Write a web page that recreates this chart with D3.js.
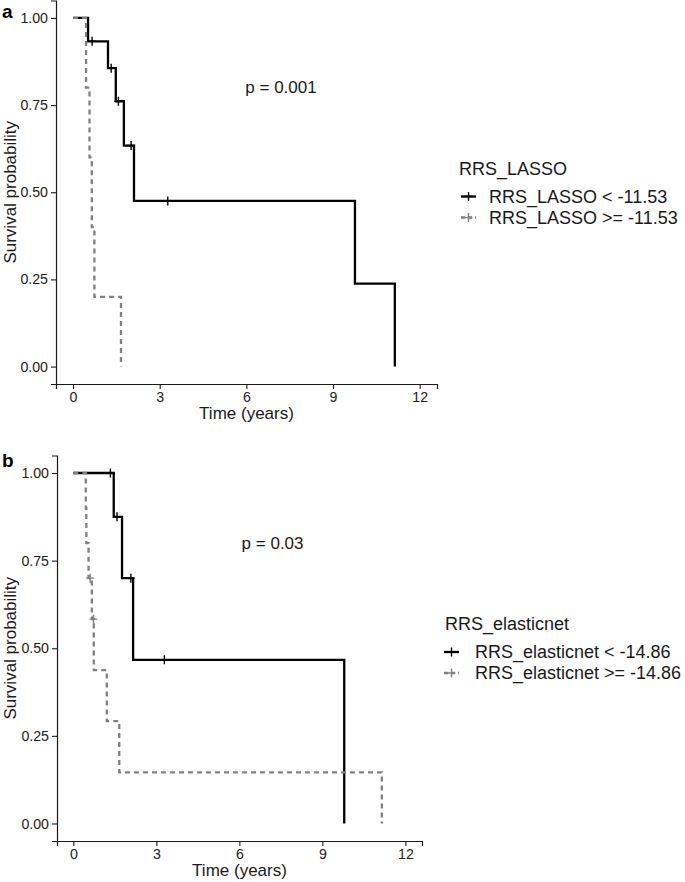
<!DOCTYPE html>
<html>
<head>
<meta charset="utf-8">
<script src="https://cdn.jsdelivr.net/npm/d3@7"></script>
<style>
  html, body { margin: 0; padding: 0; background: #fff; }
  svg { display: block; font-family: "Liberation Sans", Arial, sans-serif; }
</style>
</head>
<body>
<svg id="chart" width="685" height="882"></svg>
<script>
// ---------- data ----------
const timeTicks = [0, 3, 6, 9, 12];
const survTicks = [0, 0.25, 0.5, 0.75, 1];
const survTickLabels = ["0.00", "0.25", "0.50", "0.75", "1.00"];

// Panel a: RRS_LASSO
const lassoGroups = ["RRS_LASSO < -11.53", "RRS_LASSO >= -11.53"];
const lassoLowTime = [0, 0.52, 1.21, 1.48, 1.76, 2.11, 9.76, 11.14];
const lassoLowSurv = [1, 0.933, 0.856, 0.761, 0.634, 0.475, 0.238, 0];
const lassoLowCensorTime = [0.66, 1.32, 1.57, 2.01, 3.28];
const lassoLowCensorSurv = [0.933, 0.856, 0.761, 0.634, 0.475];
const lassoHighTime = [0, 0.45, 0.57, 0.65, 0.74, 1.66];
const lassoHighSurv = [1, 0.8, 0.6, 0.4, 0.2, 0];
const lassoHighCensorTime = [];
const lassoHighCensorSurv = [];

// Panel b: RRS_elasticnet
const enetGroups = ["RRS_elasticnet < -14.86", "RRS_elasticnet >= -14.86"];
const enetLowTime = [0, 1.46, 1.76, 2.16, 9.79];
const enetLowSurv = [1, 0.875, 0.70, 0.467, 0];
const enetLowCensorTime = [1.34, 1.58, 2.08, 3.29];
const enetLowCensorSurv = [1, 0.875, 0.70, 0.467];
const enetHighTime = [0, 0.45, 0.47, 0.55, 0.67, 0.74, 1.21, 1.66, 11.15];
const enetHighSurv = [1, 0.9, 0.8, 0.7, 0.583, 0.4375, 0.292, 0.146, 0];
const enetHighCensorTime = [0.61, 0.73];
const enetHighCensorSurv = [0.7, 0.583];

const pValues = ["p = 0.001", "p = 0.03"];
const legendTitles = ["RRS_LASSO", "RRS_elasticnet"];
const panelLetters = ["a", "b"];

// ---------- drawing ----------
const svg = d3.select("#chart");
const zip = (xs, ys) => xs.map((x, i) => [x, ys[i]]);
const ink = "#1a1a1a";
const colors = ["#000000", "#808080"];

function drawPanel(p) {
  const g = svg.append("g");
  const x = d3.scaleLinear().domain([-0.59, 12.6]).range([p.left, p.right]);
  const y = d3.scaleLinear().domain([-0.05, 1.05]).range([p.bottom, p.top]);

  // axes
  const xAxis = d3.axisBottom(x).tickValues(timeTicks).tickSize(5).tickPadding(3).tickFormat(d3.format("d"));
  const yAxis = d3.axisLeft(y).tickValues(survTicks).tickSize(5).tickPadding(3)
    .tickFormat(d => survTickLabels[survTicks.indexOf(d)]);
  const gx = g.append("g").attr("transform", `translate(0,${p.bottom})`).call(xAxis);
  const gy = g.append("g").attr("transform", `translate(${p.left},0)`).call(yAxis);
  [gx, gy].forEach(a => {
    a.select(".domain").attr("stroke", ink).attr("stroke-width", 1.2);
    a.selectAll(".tick line").attr("stroke", ink).attr("stroke-width", 1.1);
    a.selectAll(".tick text").attr("fill", "#222").attr("font-size", 14.2)
      .attr("font-family", '"Liberation Sans", Arial, sans-serif');
  });

  // curves
  const line = d3.line().x(d => x(d[0])).y(d => y(d[1])).curve(d3.curveStepAfter);
  p.series.forEach((s, i) => {
    g.append("path").datum(zip(s.time, s.surv))
      .attr("d", line)
      .attr("fill", "none")
      .attr("stroke", colors[i])
      .attr("stroke-width", 2.3)
      .attr("stroke-dasharray", i === 1 ? "5,4" : null)
      .attr("stroke-linejoin", "miter");
    g.selectAll(null).data(zip(s.ctime, s.csurv)).enter().append("path")
      .attr("d", d => `M${x(d[0]) - 4},${y(d[1])}h8M${x(d[0])},${y(d[1]) - 4.5}v9`)
      .attr("stroke", colors[i])
      .attr("stroke-width", 1.4)
      .attr("fill", "none");
  });

  // p value
  g.append("text").attr("x", x(7.2)).attr("y", y(0.8))
    .attr("text-anchor", "middle").attr("dominant-baseline", "central")
    .attr("font-size", 17).attr("fill", ink).text(p.pval);

  // axis titles
  g.append("text").attr("x", (p.left + p.right) / 2).attr("y", p.bottom + 35)
    .attr("text-anchor", "middle").attr("font-size", 17).attr("fill", ink).text("Time (years)");
  g.append("text").attr("transform", `translate(15.5,${(p.top + p.bottom) / 2}) rotate(-90)`)
    .attr("text-anchor", "middle").attr("font-size", 17).attr("fill", ink).text("Survival probability");

  // panel letter
  g.append("text").attr("x", 2).attr("y", p.letterY).attr("font-size", 19)
    .attr("font-weight", "bold").attr("fill", "#000").text(p.letter);

  // legend
  const lg = g.append("g");
  lg.append("text").attr("x", p.legX).attr("y", p.legTitleY).attr("font-size", 18)
    .attr("fill", ink).text(p.legTitle);
  p.groups.forEach((name, i) => {
    const cy = p.legEntryY[i];
    lg.append("line").attr("x1", p.keyX).attr("x2", p.keyX + 15).attr("y1", cy).attr("y2", cy)
      .attr("stroke", colors[i]).attr("stroke-width", 2.3)
      .attr("stroke-dasharray", i === 1 ? "4,3" : null);
    lg.append("path").attr("d", `M${p.keyX + 3.5},${cy}h8M${p.keyX + 7.5},${cy - 4.5}v9`)
      .attr("stroke", colors[i]).attr("stroke-width", 1.4);
    lg.append("text").attr("x", p.textX).attr("y", cy).attr("dominant-baseline", "central")
      .attr("font-size", 18).attr("fill", ink).text(name);
  });
}

drawPanel({
  left: 56, right: 437, top: 0.5, bottom: 384,
  series: [
    { time: lassoLowTime, surv: lassoLowSurv, ctime: lassoLowCensorTime, csurv: lassoLowCensorSurv },
    { time: lassoHighTime, surv: lassoHighSurv, ctime: lassoHighCensorTime, csurv: lassoHighCensorSurv }
  ],
  pval: pValues[0], letter: panelLetters[0], letterY: 18,
  legTitle: legendTitles[0], groups: lassoGroups,
  legX: 459, legTitleY: 175, keyX: 461, textX: 489, legEntryY: [196.5, 217.5]
});

drawPanel({
  left: 57, right: 422, top: 455.5, bottom: 841,
  series: [
    { time: enetLowTime, surv: enetLowSurv, ctime: enetLowCensorTime, csurv: enetLowCensorSurv },
    { time: enetHighTime, surv: enetHighSurv, ctime: enetHighCensorTime, csurv: enetHighCensorSurv }
  ],
  pval: pValues[1], letter: panelLetters[1], letterY: 467,
  legTitle: legendTitles[1], groups: enetGroups,
  legX: 445, legTitleY: 630, keyX: 444, textX: 475, legEntryY: [652, 673]
});
</script>
</body>
</html>
